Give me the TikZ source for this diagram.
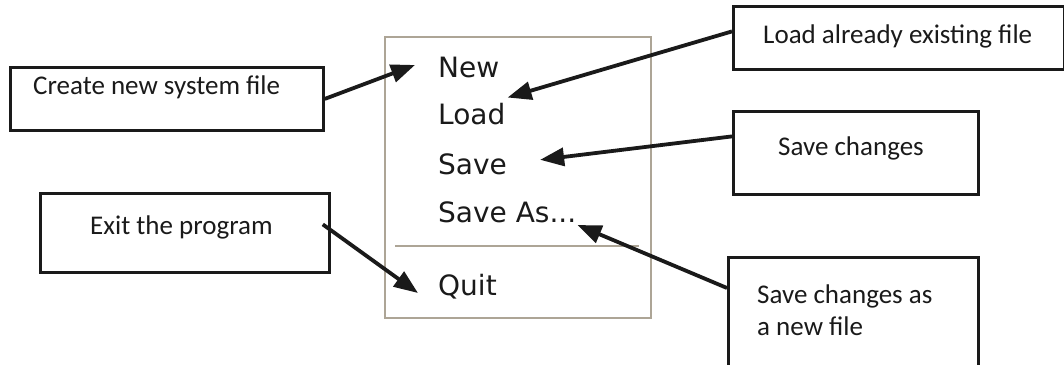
\documentclass[tikz,border=0pt]{standalone}
\usepackage{fontspec}
\setmainfont{Carlito}
\newfontfamily\menufont{DejaVu Sans}
\usetikzlibrary{arrows.meta}
\definecolor{ink}{HTML}{1A1A1A}
\definecolor{menuframe}{HTML}{ADA596}
\tikzset{
  callout/.style={draw=ink, line width=2.8pt, rectangle, inner sep=0pt, anchor=north west},
  lbl/.style={inner sep=0pt, anchor=base west, text=ink, font=\fontsize{27}{32}\selectfont},
  item/.style={inner sep=0pt, anchor=base west, text=ink, font=\menufont\fontsize{28}{34}\selectfont},
  pointer/.style={draw=ink, line width=3.8pt, -{Triangle[length=24pt,width=18pt]}},
}
\begin{document}
\begin{tikzpicture}[x=1pt,y=-1pt]
\clip (0,0) rectangle (1064,364);
\fill[white] (0,0) rectangle (1064,364);

% menu frame and separator
\node[draw=menuframe, line width=2.4pt, rectangle, inner sep=0pt, anchor=north west,
      minimum width=266pt, minimum height=281pt] (menu) at (384,36) {};
\draw[menuframe, line width=2.4pt] (395,246) -- (639,246);

% menu entries
\node[item] (new)    at (438,77)  {New};
\node[item] (load)   at (438,124) {Load};
\node[item] (save)   at (438,174) {Save};
\node[item] (saveas) at (438,222) {Save As...};
\node[item] (quit)   at (438,295) {Quit};

% callout boxes
\node[callout, minimum width=313pt, minimum height=63pt] (cbox)  at (9,66)   {};
\node[callout, minimum width=331pt, minimum height=63pt] (lbox)  at (732,5)  {};
\node[callout, minimum width=245pt, minimum height=83pt] (sbox)  at (732,110) {};
\node[callout, minimum width=289pt, minimum height=79pt] (ebox)  at (39,192) {};
\node[callout, minimum width=250pt, minimum height=130pt] (abox) at (727,256) {};

% callout texts
\node[lbl] (ctext) at (33,94)  {Create new system file};
\node[lbl] (ltext) at (763,43) {Load already existing file};
\node[lbl] (stext) at (778,155) {Save changes};
\node[lbl] (etext) at (90,234) {Exit the program};
\node[lbl, align=left] (atext) at (757,335) {Save changes as\\a new file};

% pointers from callouts to menu entries
\draw[pointer] (cbox.east) -- ([xshift=-23pt,yshift=2pt]new.west);
\draw[pointer] ([yshift=6.5pt]lbox.west) -- ([xshift=2pt,yshift=5pt]load.north east);
\draw[pointer] ([yshift=16.5pt]sbox.west) -- ([xshift=33pt,yshift=4pt]save.east);
\draw[pointer] ([yshift=-32pt]abox.north west) -- ([xshift=1pt,yshift=-3pt]saveas.base east);
\draw[pointer] ([xshift=-8pt,yshift=8.5pt]ebox.east) -- ([xshift=-20pt,yshift=2pt]quit.base west);
\end{tikzpicture}
\end{document}
